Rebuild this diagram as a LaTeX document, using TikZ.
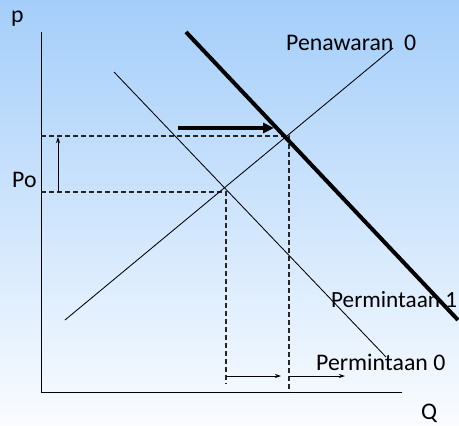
\documentclass[tikz,border=0pt]{standalone}
\usepackage{fontspec}
\setmainfont{Carlito}
\usetikzlibrary{arrows.meta}
\definecolor{bgtop}{RGB}{164,206,250}
\definecolor{bgbot}{RGB}{250,252,255}
\tikzset{
  lbl/.style={anchor=base west,inner sep=0pt,font=\fontsize{23.8}{28}\selectfont},
  thin/.style={line width=0.85pt,black},
  guide/.style={line width=1.2pt,black!85,dash pattern=on 5pt off 3pt},
  smallarrow/.style={line width=0.9pt,-{Stealth[length=6pt,width=4pt]}}
}
\begin{document}
\begin{tikzpicture}[x=1pt,y=-1pt]
\useasboundingbox (0,0) rectangle (459,426);
\shade[top color=bgtop,bottom color=bgbot] (0,0) rectangle (459,426);
% coordinates
\coordinate (ytop) at (41,32);
\coordinate (orig) at (41,392);
\coordinate (xend) at (402,392);
\coordinate (s0a) at (65,320);
\coordinate (s0b) at (393,48);
\coordinate (d0a) at (114,72);
\coordinate (d0b) at (386,357);
\coordinate (d1a) at (186,32);
\coordinate (d1b) at (458,320);
\coordinate (p1y) at (41,136);
\coordinate (e1) at (289,136);
\coordinate (e1x) at (289,392);
\coordinate (p0y) at (41,192);
\coordinate (e0) at (226,192);
\coordinate (e0x) at (226,384);
\coordinate (upA) at (58,192);
\coordinate (upB) at (58,137);
\coordinate (shA) at (178,128);
\coordinate (shB) at (274,128);
\coordinate (q0a) at (226,376);
\coordinate (q0b) at (281,376);
\coordinate (q1a) at (289,376);
\coordinate (q1b) at (345,376);
% axes
\draw[thin,line width=0.9pt] (ytop) -- (orig) -- (xend);
% guides
\draw[guide] (p1y) -- (e1) -- (e1x);
\draw[guide] (p0y) -- (e0) -- (e0x);
% curves
\draw[thin] (s0a) -- (s0b);
\draw[thin] (d0a) -- (d0b);
\draw[line width=4pt,black] (d1a) -- (d1b);
% arrows
\draw[line width=3.6pt,-{Triangle[length=11pt,width=10pt]}] (shA) -- (shB);
\draw[smallarrow] (upA) -- (upB);
\draw[smallarrow] (q0a) -- (q0b);
\draw[smallarrow] (q1a) -- (q1b);
% labels
\node[lbl] (pl) at (11,22) {p};
\node[lbl] (po) at (12,187) {Po};
\node[lbl] (ql) at (421,419) {Q};
\node[lbl] (pen) at (286,50) {Penawaran\ \ 0};
\node[lbl,font=\fontsize{23.2}{28}\selectfont] (per1) at (331,307) {Permintaan 1};
\node[lbl] (per0) at (316,370) {Permintaan 0};
\end{tikzpicture}
\end{document}
